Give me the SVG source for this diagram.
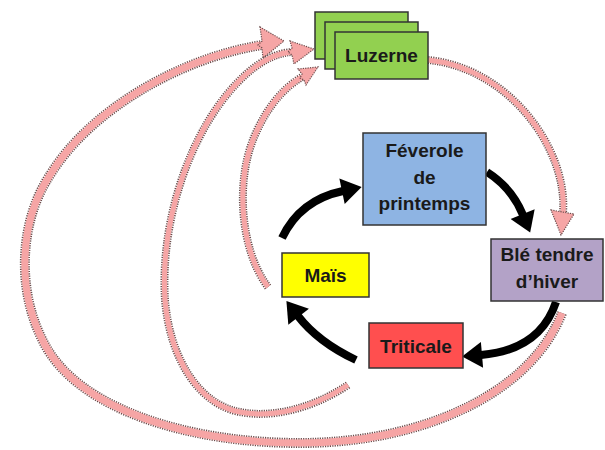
<svg xmlns="http://www.w3.org/2000/svg" width="605" height="450" viewBox="0 0 605 450">
<defs>
<style>
.box{stroke:#333;stroke-width:1.5}
.lbl{font-family:"Liberation Sans",Arial,sans-serif;font-weight:bold;font-size:19px;fill:#1a1a1a;text-anchor:middle}
.pk-o{fill:none;stroke:#6b4b4b;stroke-dasharray:1.2 1.2}
.pk-i{fill:none;stroke:#f6a5a5}
.pk-h{fill:#f6a5a5;stroke:#6b4b4b;stroke-width:1.2;stroke-dasharray:1.2 1.2}
.blk{fill:none;stroke:#000;stroke-width:8}
</style>
<marker id="bh" markerUnits="userSpaceOnUse" markerWidth="22" markerHeight="26" viewBox="0 0 20 26" refX="1" refY="13" orient="auto">
<path d="M0,0 L20,13 L0,26 Z" fill="#000"/>
</marker>
</defs>
<rect width="605" height="450" fill="#fff"/>
<g id="connectors">
<!-- black cycle -->
<path class="blk" d="M282,238 Q300,200 343,191" marker-end="url(#bh)"/>
<path class="blk" d="M487,172 Q512,188 523,215" marker-end="url(#bh)"/>
<path class="blk" d="M556,302 Q540,350 481,355" marker-end="url(#bh)"/>
<path class="blk" d="M356,360 Q318,342 298,316" marker-end="url(#bh)"/>
<!-- pink outer -->
<path class="pk-o" stroke-width="10" d="M562,313 C530,395 420,443 300,443 C190,443 80,410 45,345 C15,290 20,220 50,175 C90,110 180,58 262,45"/>
<path class="pk-i" stroke-width="7" d="M562,313 C530,395 420,443 300,443 C190,443 80,410 45,345 C15,290 20,220 50,175 C90,110 180,58 262,45"/>
<polygon class="pk-h" points="260,27 284,41 263,58 262,48 258,45 262,41"/>
<!-- pink middle -->
<path class="pk-o" stroke-width="8" d="M348,385 C310,410 270,418 240,412 C200,405 170,360 165,300 C160,220 190,130 240,80 C258,62 275,53 292,52"/>
<path class="pk-i" stroke-width="5" d="M348,385 C310,410 270,418 240,412 C200,405 170,360 165,300 C160,220 190,130 240,80 C258,62 275,53 292,52"/>
<polygon class="pk-h" points="290,41 314,49 294,64 292,55 288,52 292,48"/>
<!-- pink inner -->
<path class="pk-o" stroke-width="8" d="M268,287 C240,250 235,180 255,135 C268,105 285,87 302,77"/>
<path class="pk-i" stroke-width="5" d="M268,287 C240,250 235,180 255,135 C268,105 285,87 302,77"/>
<polygon class="pk-h" points="298,69 318,67 306,85 304,80 300,78 302,74"/>
<!-- pink luzerne -> ble -->
<path class="pk-o" stroke-width="8" d="M428,60 C510,68 568,150 563,213"/>
<path class="pk-i" stroke-width="5" d="M428,60 C510,68 568,150 563,213"/>
<polygon class="pk-h" points="551,210 574,214 561,235"/>
</g>
<g id="luzerne">
<rect class="box" x="315" y="12" width="93" height="47" fill="#92d050"/>
<rect class="box" x="325" y="22" width="93" height="47" fill="#92d050"/>
<rect class="box" x="335" y="32" width="93" height="47" fill="#92d050"/>
<text class="lbl" x="381.5" y="62">Luzerne</text>
</g>
<g id="feverole">
<rect class="box" x="363" y="133" width="123" height="92" fill="#8eb4e3"/>
<text class="lbl" x="424.5" y="157">Féverole</text>
<text class="lbl" x="424.5" y="184">de</text>
<text class="lbl" x="424.5" y="210">printemps</text>
</g>
<g id="ble">
<rect class="box" x="491" y="239" width="112" height="62" fill="#b3a2c7"/>
<text class="lbl" x="547" y="261">Blé tendre</text>
<text class="lbl" x="547" y="288">d’hiver</text>
</g>
<g id="mais">
<rect class="box" x="282" y="253" width="87" height="44" fill="#ffff00"/>
<text class="lbl" x="325.5" y="282">Maïs</text>
</g>
<g id="triticale">
<rect class="box" x="369" y="323" width="94" height="45" fill="#ff4f4f"/>
<text class="lbl" x="416" y="353">Triticale</text>
</g>
</svg>
